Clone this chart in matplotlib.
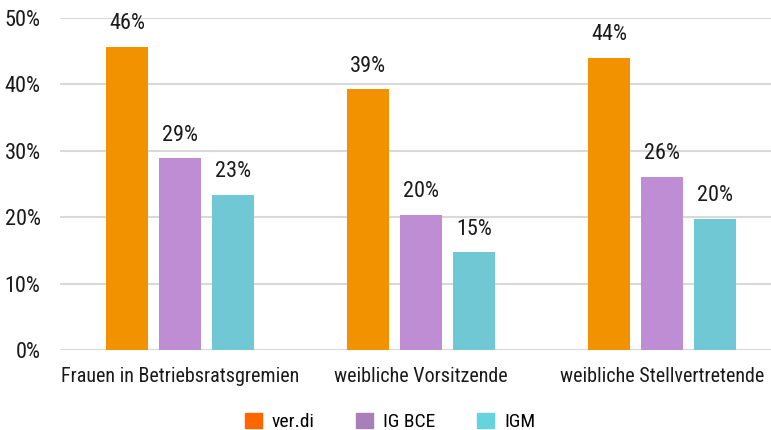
import numpy as np
import matplotlib.pyplot as plt
from matplotlib.patches import Patch

plt.rcParams['font.family'] = ['Roboto Condensed', 'DejaVu Sans']

kategorien = ['Frauen in Betriebsratsgremien', 'weibliche Vorsitzende', 'weibliche Stellvertretende']
serien = ['ver.di', 'IG BCE', 'IGM']
verdi = [45.7, 39.3, 44.0]
igbce = [28.9, 20.4, 26.1]
igm = [23.4, 14.7, 19.8]
labels = [['46%', '39%', '44%'], ['29%', '20%', '26%'], ['23%', '15%', '20%']]

bar_farben = ['#F39200', '#BF8DD3', '#6FC8D4']
legend_farben = ['#FF6600', '#A97FBA', '#66D4DC']

fig = plt.figure(figsize=(7.71, 4.30), dpi=100)
ax = fig.add_axes([60/771, 80/430, 711/771, 332/430])

x = np.arange(len(kategorien))
w = 0.174
step = 0.22
for i, (vals, col) in enumerate(zip([verdi, igbce, igm], bar_farben)):
    pos = x + (i - 1) * step
    ax.bar(pos, vals, width=w, color=col, zorder=3)
    for p, v, t in zip(pos, vals, labels[i]):
        ax.annotate(t, (p, v), xytext=(0, 9), textcoords='offset points',
                    ha='center', va='bottom', fontsize=16, color='#1a1a1a')

ax.set_xlim(-0.498, 2.452)
ax.set_ylim(0, 50)
ax.set_yticks([0, 10, 20, 30, 40, 50])
ax.set_yticklabels(['0%', '10%', '20%', '30%', '40%', '50%'])
ax.set_xticks(x)
ax.set_xticklabels(kategorien)
ax.yaxis.grid(True, color='#d9d9d9', linewidth=1.5, zorder=0)
ax.set_axisbelow(True)
for s in ax.spines.values():
    s.set_visible(False)
ax.tick_params(axis='both', length=0, colors='#1a1a1a')
ax.tick_params(axis='y', pad=14, labelsize=16)
ax.tick_params(axis='x', pad=12, labelsize=14.5)

handles = [Patch(color=c, label=l) for c, l in zip(legend_farben, serien)]
fig.legend(handles=handles, loc='center', bbox_to_anchor=(390/771, 1 - 422/430),
           ncol=3, frameon=False, fontsize=14, handlelength=0.87, handleheight=0.87,
           columnspacing=2.15, handletextpad=0.51, borderpad=0)

fig.savefig('out.png', dpi=100)
